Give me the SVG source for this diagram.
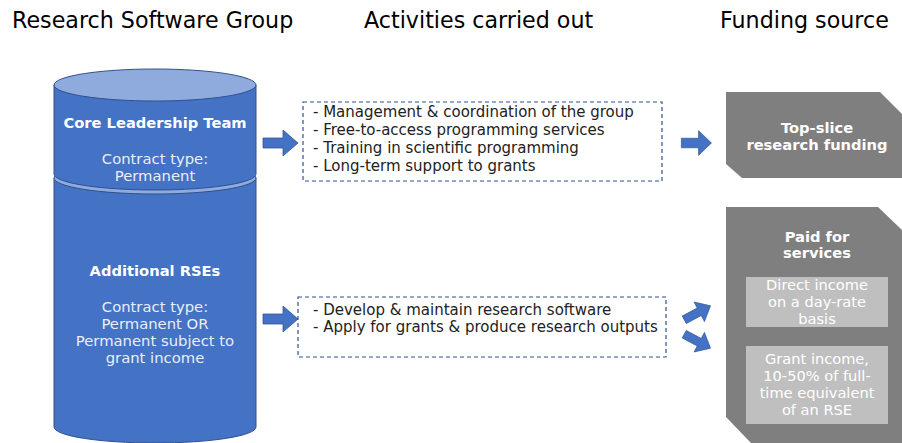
<svg xmlns="http://www.w3.org/2000/svg" xmlns:xlink="http://www.w3.org/1999/xlink" width="902" height="443" viewBox="0 0 902 443">
<defs>
<style>
text{font-family:"DejaVu Sans","Liberation Sans",sans-serif;}
.hdr{font-size:22.2px;fill:#000;}
.b{font-weight:bold;fill:#fff;font-size:14.7px;text-anchor:middle;}
.w{fill:#e9eef8;font-size:14.8px;text-anchor:middle;}
.lst{font-size:15px;fill:#222;}
.wb{fill:#fff;font-size:14.6px;text-anchor:middle;}
.cyl{fill:#4472c4;stroke:#2f528f;stroke-width:1;}
.cap{fill:#8faadc;stroke:#2f528f;stroke-width:1;}
.dash{fill:#fff;stroke:#2f528f;stroke-width:1.2;stroke-dasharray:4 3;}
.gray{fill:#7f7f7f;}
.lg{fill:#bfbfbf;}
.arr{fill:#4472c4;stroke:#2f528f;stroke-width:0.75;}
</style>
<path id="blk" d="M-17,-5 L3,-5 L3,-13 L18,0 L3,13 L3,5 L-17,5 Z"/>
</defs>
<rect width="902" height="443" fill="#fff"/>

<text class="hdr" x="12" y="28">Research Software Group</text>
<text class="hdr" x="364" y="28">Activities carried out</text>
<text class="hdr" x="720" y="28">Funding source</text>

<g id="additional-rses">
<path class="cyl" d="M54,178 L54,427 A101,16 0 0 0 256,427 L256,178 Z"/>
<ellipse class="cap" cx="155" cy="178" rx="101" ry="16"/>
</g>
<g id="core-leadership">
<path class="cyl" d="M54,85 L54,174 A101,16 0 0 0 256,174 L256,85 Z"/>
<ellipse class="cap" cx="155" cy="85" rx="101" ry="16"/>
<text class="b" x="155" y="128">Core Leadership Team</text>
<text class="w" x="155" y="164">Contract type:</text>
<text class="w" x="155" y="181">Permanent</text>
</g>
<g id="additional-rses-text">
<text class="b" x="155" y="276">Additional RSEs</text>
<text class="w" x="155" y="312">Contract type:</text>
<text class="w" x="155" y="329">Permanent OR</text>
<text class="w" x="155" y="346">Permanent subject to</text>
<text class="w" x="155" y="363">grant income</text>
</g>

<g id="activities-core">
<rect class="dash" x="303" y="102" width="359" height="79"/>
<text class="lst" x="313" y="117">- Management &amp; coordination of the group</text>
<text class="lst" x="313" y="135">- Free-to-access programming services</text>
<text class="lst" x="313" y="153">- Training in scientific programming</text>
<text class="lst" x="313" y="171">- Long-term support to grants</text>
</g>
<g id="activities-rses">
<rect class="dash" x="298" y="297" width="368" height="60"/>
<text class="lst" x="313" y="315">- Develop &amp; maintain research software</text>
<text class="lst" x="313" y="332">- Apply for grants &amp; produce research outputs</text>
</g>

<g id="top-slice">
<path class="gray" d="M726,92 L880,92 L902,114 L902,178 L742,178 L726,164 Z"/>
<text class="b" x="817" y="133">Top-slice</text>
<text class="b" x="817" y="150">research funding</text>
</g>
<g id="paid-services">
<path class="gray" d="M726,207 L878,207 L902,230 L902,443 L751,443 L726,417 Z"/>
<text class="b" x="817" y="242">Paid for</text>
<text class="b" x="817" y="258">services</text>
<rect class="lg" x="746" y="277" width="142" height="50"/>
<text class="wb" x="817" y="290">Direct income</text>
<text class="wb" x="817" y="307">on a day-rate</text>
<text class="wb" x="817" y="324">basis</text>
<rect class="lg" x="746" y="346" width="142" height="78"/>
<text class="wb" x="817" y="364">Grant income,</text>
<text class="wb" x="817" y="381">10-50% of full-</text>
<text class="wb" x="817" y="398">time equivalent</text>
<text class="wb" x="817" y="415">of an RSE</text>
</g>

<g id="connectors">
<use xlink:href="#blk" class="arr" transform="translate(280,143)"/>
<use xlink:href="#blk" class="arr" transform="translate(280,319)"/>
<use xlink:href="#blk" class="arr" transform="translate(696,143) scale(0.86,0.95)"/>
<use xlink:href="#blk" class="arr" transform="translate(697,313) rotate(-28) scale(0.85)"/>
<use xlink:href="#blk" class="arr" transform="translate(697,341) rotate(28) scale(0.85)"/>
</g>
</svg>
